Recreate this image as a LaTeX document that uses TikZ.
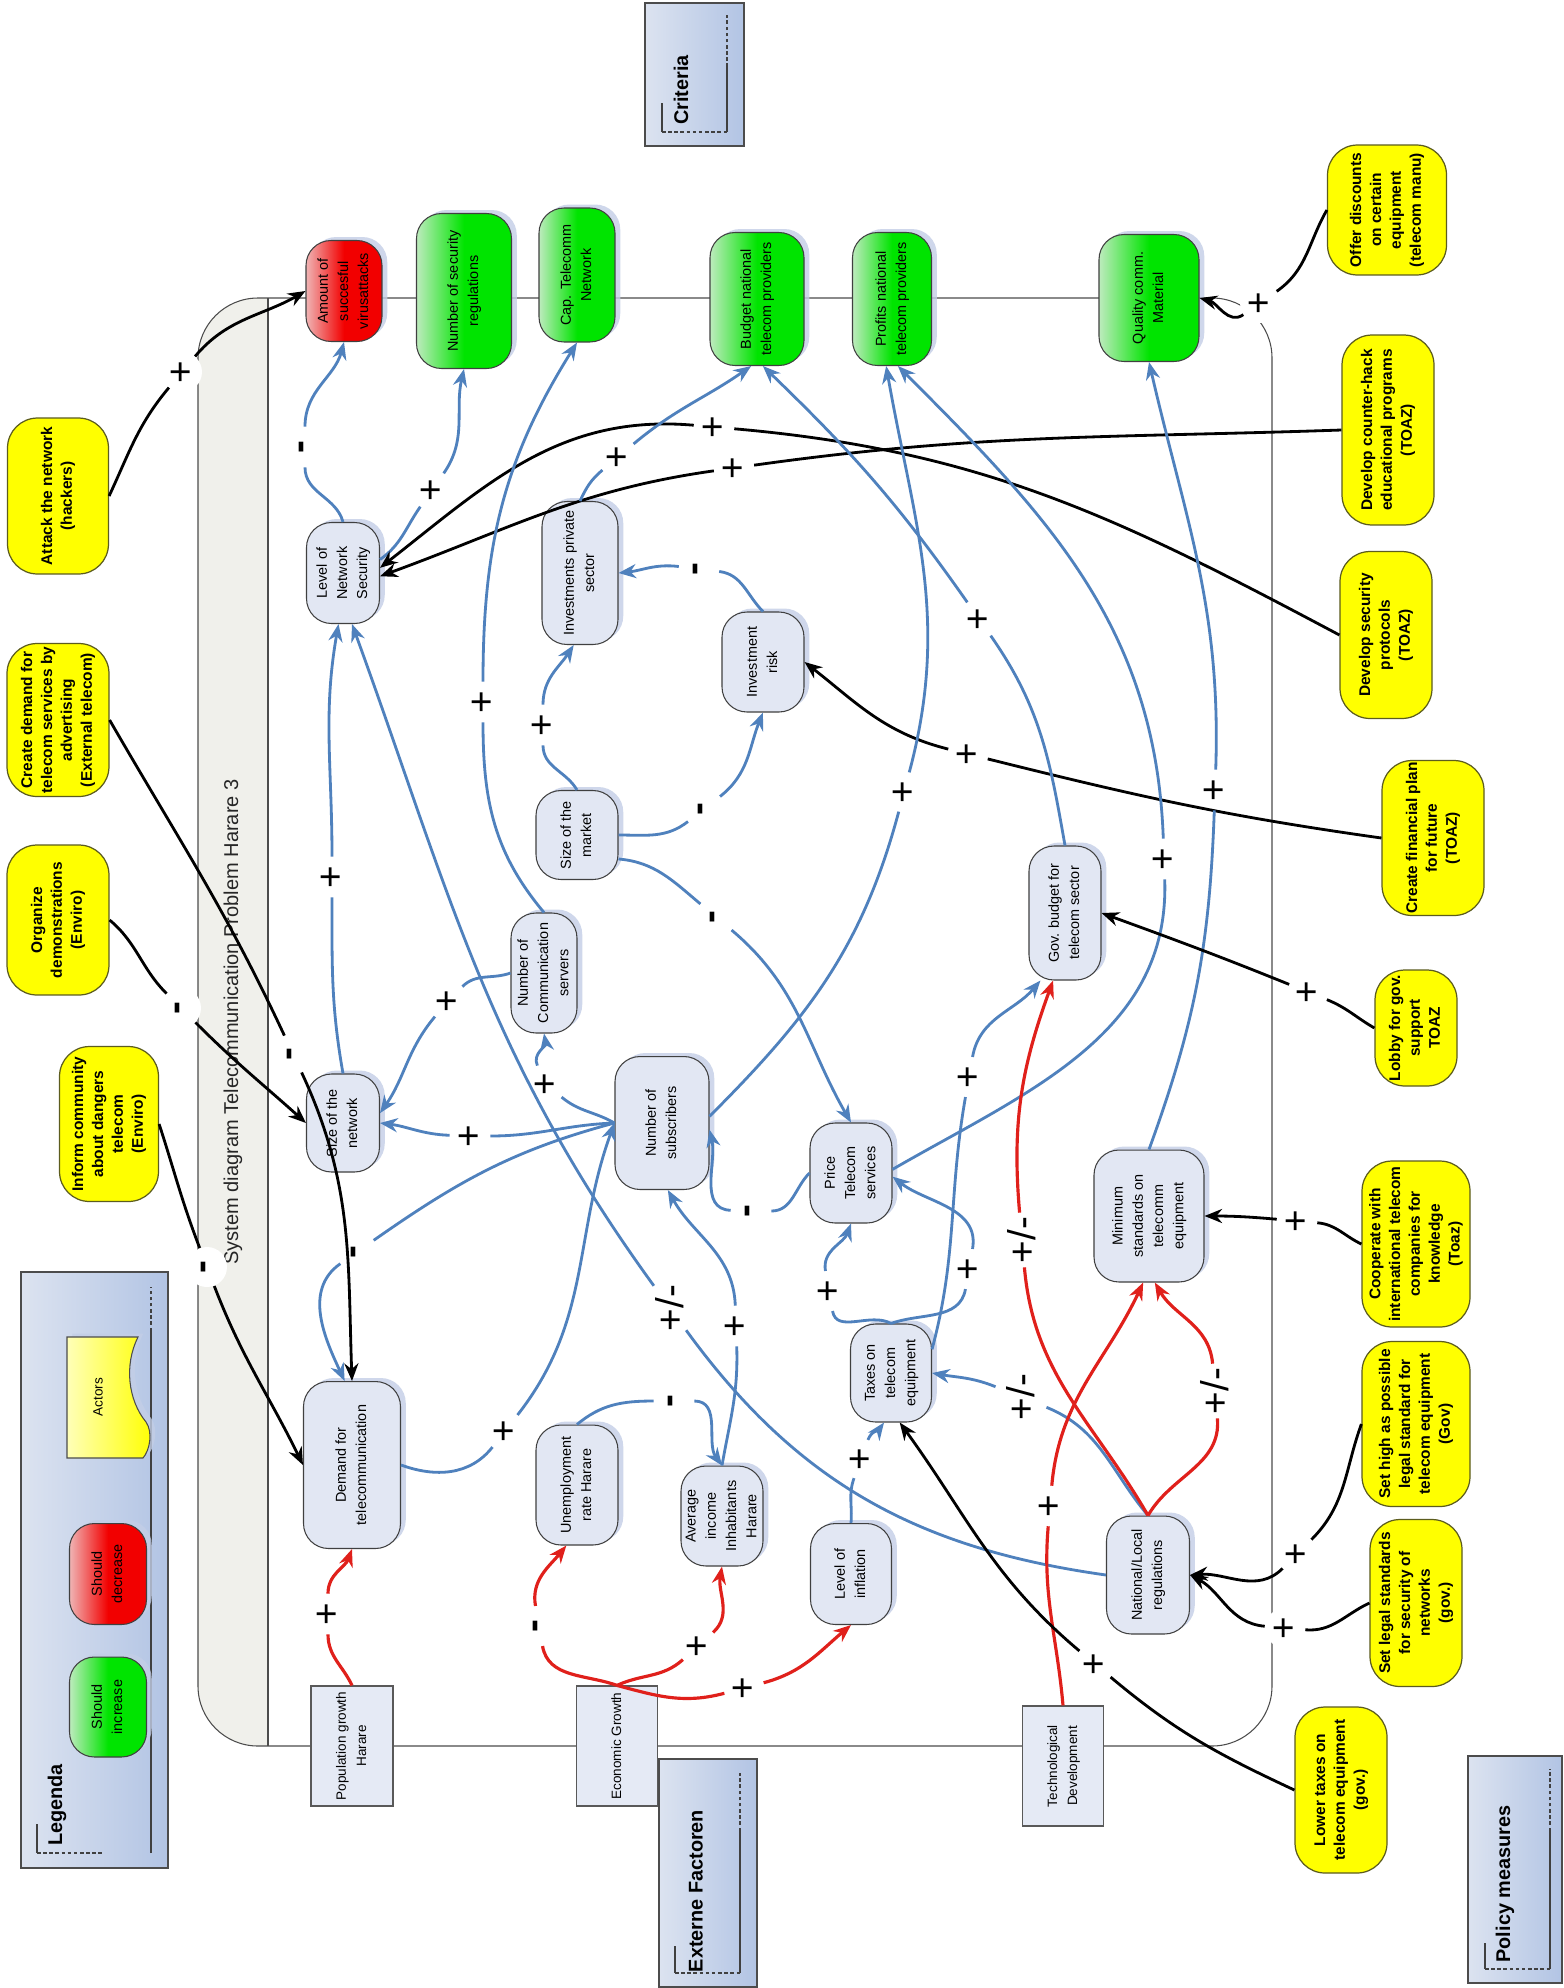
\documentclass[tikz,border=0pt]{standalone}
\usepackage{fontspec}
\setmainfont{Liberation Sans}
\usetikzlibrary{arrows.meta,shadows}

\definecolor{edgeblue}{HTML}{4F81BD}
\definecolor{edgered}{HTML}{E0201B}
\definecolor{varfill}{HTML}{E2E7F3}
\definecolor{actorfill}{HTML}{FFFF00}
\definecolor{actorpale}{HTML}{FFFFB8}
\definecolor{actorline}{HTML}{5C5C1E}
\definecolor{goodgreen}{HTML}{00E400}
\definecolor{palegreen}{HTML}{BDEBBD}
\definecolor{badred}{HTML}{F20000}
\definecolor{palered}{HTML}{F0B4B4}
\definecolor{boxlight}{HTML}{DCE3F0}
\definecolor{boxdark}{HTML}{B2C4E4}
\definecolor{extfill}{HTML}{E5EAF5}
\definecolor{shadowblue}{HTML}{C3CEE6}
\definecolor{bandfill}{HTML}{F0F0EB}

\newcommand{\uptext}[1]{\rotatebox{90}{\begin{tabular}{@{}c@{}}#1\end{tabular}}}

\begin{document}
\begin{tikzpicture}[x=0.02cm,y=0.02cm,
  var/.style={draw=black!75,line width=0.6pt,fill=varfill,rounded corners=0.5cm,inner sep=0pt,
    font=\fontsize{8.2}{11.5}\selectfont,drop shadow={shadow xshift=3pt,shadow yshift=2pt,fill=shadowblue,opacity=0.8}},
  good/.style={var,left color=palegreen,right color=goodgreen,middle color=goodgreen},
  bad/.style={var,left color=palered,right color=badred,middle color=badred},
  actor/.style={draw=actorline,line width=0.7pt,fill=actorfill,rounded corners=0.6cm,inner sep=0pt,
    font=\fontsize{8.8}{11.3}\selectfont\bfseries},
  ext/.style={draw=black!65,line width=0.7pt,fill=extfill,inner sep=0pt,font=\fontsize{7.7}{11.4}\selectfont},
  headbox/.style={draw=black!70,line width=0.8pt,left color=boxlight,right color=boxdark},
  headtxt/.style={font=\fontsize{11.3}{13}\selectfont\bfseries,inner sep=0pt},
  hline/.style={black!75,line width=0.6pt},
  hdash/.style={hline,dash pattern=on 2pt off 1.5pt},
  swimlane/.style={black!70,line width=0.6pt},
  sgn/.style={circle,fill=white,inner sep=0pt,minimum size=0.8cm,font=\fontsize{22}{22}\selectfont},
  blu/.style={draw=edgeblue,line width=1.6pt,-{Stealth[length=10pt,width=8pt]}},
  blk/.style={draw=black,line width=1.6pt,-{Stealth[length=10pt,width=8pt]}},
  rd/.style={draw=edgered,line width=1.8pt,-{Stealth[length=10pt,width=8pt]}}]

\useasboundingbox (0,0) rectangle (1563,-1988);
\fill[white] (0,0) rectangle (1563,-1988);

\begin{scope}
\clip[rounded corners=1.2cm] (198,-298) rectangle (1272,-1746);
\fill[bandfill] (198,-298) rectangle (268,-1746);
\end{scope}
\draw[swimlane,rounded corners=1.2cm] (198,-298) rectangle (1272,-1746);
\draw[swimlane] (268,-298) -- (268,-1746);
\node[font=\fontsize{11.4}{13}\selectfont,text=black!85] (title) at (233,-1022) {\rotatebox{90}{System diagram Telecommunication Problem Harare 3}};

\draw[headbox] (21,-1272) rectangle (168,-1868);
\draw[headbox] (645,-3) rectangle (744,-146);
\draw[headbox] (659,-1759) rectangle (757,-1987);
\draw[headbox] (1468,-1756) rectangle (1562,-1983);
\draw[hline] (37,-1824) -- (37,-1853);
\draw[hdash] (37,-1853) -- (103,-1853);
\draw[hline] (151,-1853) -- (151,-1331);
\draw[hdash] (151,-1331) -- (151,-1287);
\draw[hline] (662,-103) -- (662,-132);
\draw[hdash] (662,-132) -- (727,-132);
\draw[hline] (727,-132) -- (727,-67);
\draw[hdash] (727,-67) -- (727,-15);
\draw[hline] (675,-1946) -- (675,-1973);
\draw[hdash] (675,-1973) -- (740,-1973);
\draw[hline] (740,-1973) -- (740,-1831);
\draw[hdash] (740,-1831) -- (740,-1773);
\draw[hline] (1485,-1943) -- (1485,-1969);
\draw[hdash] (1485,-1969) -- (1550,-1969);
\draw[hline] (1550,-1969) -- (1550,-1831);
\draw[hdash] (1550,-1831) -- (1550,-1769);
\node[headtxt] (legenda) at (57,-1805) {\rotatebox{90}{Legenda}};
\node[headtxt] (criteria) at (681,-90) {\rotatebox{90}{Criteria}};
\node[headtxt] (externe) at (696,-1891) {\rotatebox{90}{Externe Factoren}};
\node[headtxt] (policy) at (1505,-1884) {\rotatebox{90}{Policy measures}};

\node[good,minimum width=1.54cm,minimum height=2cm] (leginc) at (108,-1707) {\uptext{Should\\ increase}};
\node[bad,minimum width=1.54cm,minimum height=2.02cm] (legdec) at (108,-1574) {\uptext{Should\\ decrease}};
\draw[black!70,line width=0.6pt,left color=actorpale,right color=actorfill,drop shadow={shadow xshift=3pt,shadow yshift=2pt,fill=shadowblue,opacity=0.8}] (67,-1337) -- (138,-1337) .. controls (124,-1365) and (128,-1400) .. (146,-1422) .. controls (153,-1432) and (150,-1450) .. (143,-1458) -- (67,-1458) -- cycle;
\node[font=\fontsize{7.7}{9}\selectfont] (legact) at (98,-1397) {\rotatebox{90}{Actors}};

\node[bad,minimum width=1.52cm,minimum height=2.02cm] (amount) at (344,-291) {\uptext{Amount of\\ succesful\\ virusattacks}};
\node[good,minimum width=1.9cm,minimum height=3.1cm] (secreg) at (464,-291) {\uptext{Number of security\\ regulations}};
\node[good,minimum width=1.52cm,minimum height=2.68cm] (captel) at (577,-275) {\uptext{Cap. Telecomm\\ Network}};
\node[good,minimum width=1.88cm,minimum height=2.66cm] (budget) at (757,-299) {\uptext{Budget national\\ telecom providers}};
\node[good,minimum width=1.58cm,minimum height=2.66cm] (profits) at (892,-299) {\uptext{Profits national\\ telecom providers}};
\node[good,minimum width=2cm,minimum height=2.54cm] (quality) at (1149,-298) {\uptext{Quality comm.\\ Material}};

\node[var,minimum width=1.46cm,minimum height=2.02cm] (security) at (343,-573) {\uptext{Level of\\ Network\\ Security}};
\node[var,minimum width=1.52cm,minimum height=2.86cm] (invest) at (580,-573) {\uptext{Investments private\\ sector}};
\node[var,minimum width=1.64cm,minimum height=2cm] (risk) at (763,-662) {\uptext{Investment\\ risk}};
\node[var,minimum width=1.64cm,minimum height=1.78cm] (market) at (577,-835) {\uptext{Size of the\\ market}};
\node[var,minimum width=1.32cm,minimum height=2.4cm] (servers) at (544,-973) {\uptext{Number of\\ Communication\\ servers}};
\node[var,minimum width=1.46cm,minimum height=1.96cm] (netsize) at (343,-1123) {\uptext{Size of the\\ network}};
\node[var,minimum width=1.88cm,minimum height=2.66cm] (subscr) at (662,-1123) {\uptext{Number of\\ subscribers}};
\node[var,minimum width=1.64cm,minimum height=2cm] (price) at (851,-1173) {\uptext{Price\\ Telecom\\ services}};
\node[var,minimum width=1.62cm,minimum height=1.96cm] (taxes) at (891,-1373) {\uptext{Taxes on\\ telecom\\ equipment}};
\node[var,minimum width=1.44cm,minimum height=2.68cm] (govbudget) at (1065,-913) {\uptext{Gov. budget for\\ telecom sector}};
\node[var,minimum width=2.2cm,minimum height=2.64cm] (minstd) at (1149,-1216) {\uptext{Minimum\\ standards on\\ telecomm\\ equipment}};
\node[var,minimum width=1.94cm,minimum height=3.34cm] (demand) at (352,-1465) {\uptext{Demand for\\ telecommunication}};
\node[var,minimum width=1.64cm,minimum height=2.4cm] (unempl) at (577,-1485) {\uptext{Unemployment\\ rate Harare}};
\node[var,minimum width=1.64cm,minimum height=2cm] (income) at (722,-1516) {\uptext{Average\\ income\\ Inhabitants\\ Harare}};
\node[var,minimum width=1.62cm,minimum height=2.02cm] (inflation) at (851,-1574) {\uptext{Level of\\ inflation}};
\node[var,minimum width=1.66cm,minimum height=2.36cm] (regs) at (1148,-1575) {\uptext{National/Local\\ regulations}};

\node[ext,minimum width=1.64cm,minimum height=2.4cm] (popgrowth) at (352,-1746) {\uptext{Population growth\\ Harare}};
\node[ext,minimum width=1.62cm,minimum height=2.4cm] (econgrowth) at (617,-1746) {\uptext{Economic Growth}};
\node[ext,minimum width=1.62cm,minimum height=2.4cm] (techdev) at (1063,-1766) {\uptext{Technological\\ Development}};

\node[actor,minimum width=2.02cm,minimum height=3.12cm] (attack) at (58,-496) {\uptext{Attack the network\\ (hackers)}};
\node[actor,minimum width=2.04cm,minimum height=3.06cm] (advert) at (58,-720) {\uptext{Create demand for\\ telecom services by\\ advertising\\ (External telecom)}};
\node[actor,minimum width=2.04cm,minimum height=3cm] (demonstr) at (58,-920) {\uptext{Organize\\ demonstrations\\ (Enviro)}};
\node[actor,minimum width=1.98cm,minimum height=3.1cm] (inform) at (109,-1124) {\uptext{Inform community\\ about dangers\\ telecom\\ (Enviro)}};
\node[actor,minimum width=2.38cm,minimum height=2.6cm] (discounts) at (1387,-210) {\uptext{Offer discounts\\ on certain\\ equipment\\ (telecom manu)}};
\node[actor,minimum width=1.84cm,minimum height=3.8cm] (counterhack) at (1388,-430) {\uptext{Develop counter-hack\\ educational programs\\ (TOAZ)}};
\node[actor,minimum width=1.84cm,minimum height=3.34cm] (secprot) at (1386,-635) {\uptext{Develop security\\ protocols\\ (TOAZ)}};
\node[actor,minimum width=2.04cm,minimum height=3.1cm] (finplan) at (1433,-838) {\uptext{Create financial plan\\ for future\\ (TOAZ)}};
\node[actor,minimum width=1.64cm,minimum height=2.32cm] (lobby) at (1416,-1028) {\uptext{Lobby for gov.\\ support\\ TOAZ}};
\node[actor,minimum width=2.16cm,minimum height=3.32cm] (cooperate) at (1416,-1244) {\uptext{Cooperate with\\ international telecom\\ companies for\\ knowledge\\ (Toaz)}};
\node[actor,minimum width=2.16cm,minimum height=3.3cm] (sethigh) at (1416,-1424) {\uptext{Set high as possible\\ legal standard for\\ telecom equipment\\ (Gov)}};
\node[actor,minimum width=1.84cm,minimum height=3.34cm] (setlegal) at (1416,-1603) {\uptext{Set legal standards\\ for security of\\ networks\\ (gov.)}};
\node[actor,minimum width=1.84cm,minimum height=3.32cm] (lowertax) at (1341,-1790) {\uptext{Lower taxes on\\ telecom equipment\\ (gov.)}};

\node[sgn] (s1) at (182,-372) {\rotatebox{90}{+}};
\node[sgn] (s2) at (305,-447) {\rotatebox{90}{\bfseries -}};
\node[sgn] (s3) at (432,-490) {\rotatebox{90}{+}};
\node[sgn] (s4) at (734,-468) {\rotatebox{90}{+}};
\node[sgn] (s5) at (714,-427) {\rotatebox{90}{+}};
\node[sgn] (s6) at (293,-1054) {\rotatebox{90}{\bfseries -}};
\node[sgn] (s7) at (181,-1008) {\rotatebox{90}{\bfseries -}};
\node[sgn] (s8) at (207,-1267) {\rotatebox{90}{\bfseries -}};
\node[sgn] (s9) at (332,-877) {\rotatebox{90}{+}};
\node[sgn] (s10) at (670,-1308) {\rotatebox{90}{+/-}};
\node[sgn] (s11) at (543,-725) {\rotatebox{90}{+}};
\node[sgn] (s12) at (704,-809) {\rotatebox{90}{\bfseries -}};
\node[sgn] (s13) at (699,-569) {\rotatebox{90}{\bfseries -}};
\node[sgn] (s14) at (968,-754) {\rotatebox{90}{+}};
\node[sgn] (s15) at (618,-457) {\rotatebox{90}{+}};
\node[sgn] (s16) at (904,-792) {\rotatebox{90}{+}};
\node[sgn] (s17) at (979,-619) {\rotatebox{90}{+}};
\node[sgn] (s18) at (1164,-859) {\rotatebox{90}{+}};
\node[sgn] (s19) at (1215,-790) {\rotatebox{90}{+}};
\node[sgn] (s20) at (483,-702) {\rotatebox{90}{+}};
\node[sgn] (s21) at (546,-1084) {\rotatebox{90}{+}};
\node[sgn] (s22) at (470,-1136) {\rotatebox{90}{+}};
\node[sgn] (s23) at (357,-1252) {\rotatebox{90}{\bfseries -}};
\node[sgn] (s24) at (505,-1431) {\rotatebox{90}{+}};
\node[sgn] (s25) at (736,-1326) {\rotatebox{90}{+}};
\node[sgn] (s26) at (674,-1401) {\rotatebox{90}{\bfseries -}};
\node[sgn] (s27) at (716,-917) {\rotatebox{90}{\bfseries -}};
\node[sgn] (s28) at (751,-1211) {\rotatebox{90}{\bfseries -}};
\node[sgn] (s29) at (829,-1291) {\rotatebox{90}{+}};
\node[sgn] (s30) at (969,-1269) {\rotatebox{90}{+}};
\node[sgn] (s31) at (861,-1459) {\rotatebox{90}{+}};
\node[sgn] (s32) at (969,-1077) {\rotatebox{90}{+}};
\node[sgn] (s33) at (1021,-1397) {\rotatebox{90}{+/-}};
\node[sgn] (s34) at (1022,-1240) {\rotatebox{90}{+/-}};
\node[sgn] (s35) at (1215,-1391) {\rotatebox{90}{+/-}};
\node[sgn] (s36) at (1050,-1506) {\rotatebox{90}{+}};
\node[sgn] (s37) at (328,-1614) {\rotatebox{90}{+}};
\node[sgn] (s38) at (539,-1626) {\rotatebox{90}{\bfseries -}};
\node[sgn] (s39) at (698,-1646) {\rotatebox{90}{+}};
\node[sgn] (s40) at (744,-1688) {\rotatebox{90}{+}};
\node[sgn] (s41) at (1095,-1664) {\rotatebox{90}{+}};
\node[sgn] (s42) at (1285,-1628) {\rotatebox{90}{+}};
\node[sgn] (s43) at (1297,-1554) {\rotatebox{90}{+}};
\node[sgn] (s44) at (1297,-1221) {\rotatebox{90}{+}};
\node[sgn] (s45) at (1308,-992) {\rotatebox{90}{+}};
\node[sgn] (s46) at (1260,-303) {\rotatebox{90}{+}};
\node[sgn] (s47) at (448,-1001) {\rotatebox{90}{+}};

\draw[blk] (attack.east) to[out=65,in=230] (s1) to[out=50,in=210] (amount.west);
\draw[blu] (security.north) to[out=105,in=-90] (s2) to[out=90,in=255] (amount.south);
\draw[blu] (security.20) to[out=35,in=235] (s3) to[out=55,in=257] (secreg.south);
\draw[blk] (counterhack.west) to[out=182,in=8] (s4) to[out=188,in=20] (security.-5);
\draw[blk] (secprot.west) to[out=152,in=-5] (s5) to[out=175,in=38] (security.8);
\draw[blk] (advert.east) to[out=-60,in=115] (s6) to[out=-65,in=92] (demand.north);
\draw[blk] (demonstr.east) to[out=-40,in=135] (s7) to[out=-45,in=138] (netsize.west);
\draw[blk] (inform.east) to[out=-72,in=111] (s8) to[out=-69,in=116] (demand.west);
\draw[blu] (netsize.north) to[out=100,in=-90] (s9) to[out=90,in=-100] (security.-95);
\draw[blu] (regs.west) to[out=172,in=-54] (s10) to[out=126,in=-70] (security.-80);
\draw[blu] (market.north) to[out=120,in=-90] (s11) to[out=90,in=-123] (invest.-95);
\draw[blu] (market.east) to[out=0,in=218] (s12) to[out=38,in=248] (risk.south);
\draw[blu] (risk.north) to[out=135,in=-7] (s13) to[out=173,in=6] (invest.east);
\draw[blk] (finplan.west) to[out=172,in=-14] (s14) to[out=166,in=-38] (risk.east);
\draw[blu] (invest.north) to[out=65,in=-140] (s15) to[out=40,in=215] (budget.-95);
\draw[blu] (subscr.8) to[out=45,in=-105] (s16) to[out=75,in=-80] (profits.-95);
\draw[blu] (govbudget.north) to[out=100,in=-55] (s17) to[out=125,in=-44] (budget.-85);
\draw[blu] (price.5) to[out=30,in=-88] (s18) to[out=92,in=-45] (profits.-85);
\draw[blu] (minstd.north) to[out=70,in=-92] (s19) to[out=88,in=-77] (quality.south);
\draw[blu] (servers.north) to[out=130,in=-90] (s20) to[out=90,in=238] (captel.south);
\draw[blu] (subscr.west) to[out=150,in=-40] (s21) to[out=115,in=-80] (servers.south);
\draw[blu] (subscr.west) to[out=182,in=0] (s22) to[out=178,in=-7] (netsize.east);
\draw[blu] (subscr.west) to[out=195,in=35] (s23) to[out=215,in=115] (demand.95);
\draw[blu] (demand.east) to[out=-20,in=232] (s24) to[out=52,in=250] (subscr.west);
\draw[blu] (income.north) to[out=80,in=-88] (s25) to[out=92,in=-61] (subscr.-85);
\draw[blu] (unempl.north) to[out=40,in=180] (s26) to[out=0,in=126] (income.north);
\draw[blu] (market.-30) to[out=-5,in=140] (s27) to[out=-40,in=120] (price.north);
\draw[blu] (price.west) to[out=225,in=0] (s28) to[out=178,in=-77] (subscr.-8);
\draw[blu] (taxes.north) to[out=150,in=-80] (s29) to[out=100,in=-110] (price.south);
\draw[blu] (taxes.north) to[out=20,in=-100] (s30) to[out=80,in=-38] (price.-5);
\draw[blu] (inflation.north) to[out=85,in=-110] (s31) to[out=70,in=234] (taxes.-98);
\draw[blu] (taxes.30) to[out=75,in=-100] (s32) to[out=80,in=230] (govbudget.-110);
\draw[blu] (regs.north) to[out=130,in=-22] (s33) to[out=158,in=-10] (taxes.east);
\draw[rd] (regs.north) to[out=120,in=-85] (s34) to[out=95,in=-110] (govbudget.-100);
\draw[rd] (regs.north) to[out=60,in=-85] (s35) to[out=95,in=-60] (minstd.-85);
\draw[rd] (techdev.north) to[out=95,in=-95] (s36) to[out=85,in=-115] (minstd.-95);
\draw[rd] (popgrowth.north) to[out=115,in=-90] (s37) to[out=90,in=-110] (demand.south);
\draw[rd] (econgrowth.north) to[out=160,in=-80] (s38) to[out=100,in=231] (unempl.-100);
\draw[rd] (econgrowth.north) to[out=25,in=222] (s39) to[out=42,in=-100] (income.south);
\draw[rd] (econgrowth.north) to[out=-15,in=195] (s40) to[out=15,in=220] (inflation.south);
\draw[blk] (lowertax.west) to[out=155,in=-40] (s41) to[out=140,in=-54] (taxes.-80);
\draw[blk] (setlegal.west) to[out=205,in=-5] (s42) to[out=175,in=-28] (regs.east);
\draw[blk] (sethigh.west) to[out=250,in=45] (s43) to[out=225,in=4] (regs.east);
\draw[blk] (cooperate.west) to[out=155,in=-5] (s44) to[out=175,in=0] (minstd.east);
\draw[blk] (lobby.west) to[out=150,in=-22] (s45) to[out=158,in=-20] (govbudget.east);
\draw[blk] (discounts.west) to[out=-120,in=35] (s46) to[out=215,in=-15] (quality.east);
\draw[blu] (servers.west) to[out=200,in=45] (s47) to[out=230,in=55] (netsize.15);

\end{tikzpicture}
\end{document}
